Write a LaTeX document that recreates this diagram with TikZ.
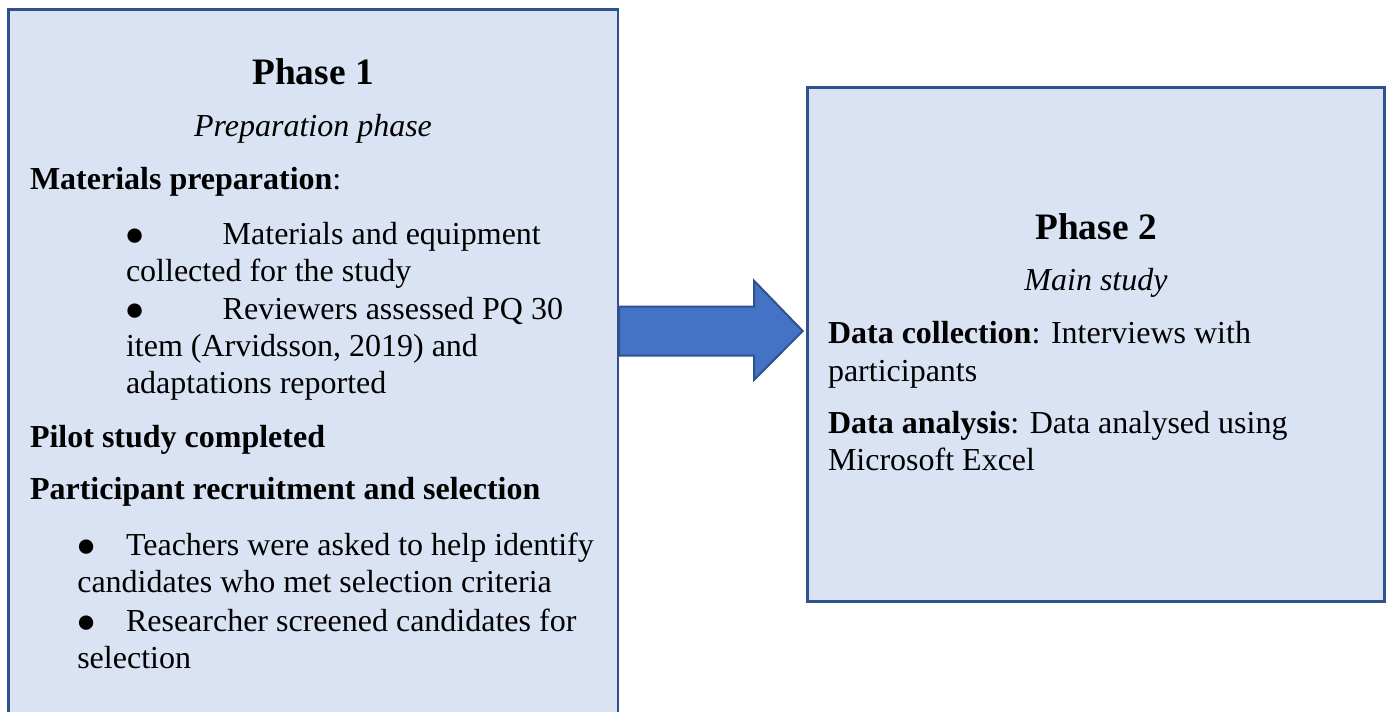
\documentclass[tikz,border=0pt]{standalone}
\usepackage{fontspec}
\setmainfont{Liberation Serif}
\definecolor{boxfill}{HTML}{DAE3F3}
\definecolor{boxline}{HTML}{2F528F}
\definecolor{arrowfill}{HTML}{4472C4}
\begin{document}
\begin{tikzpicture}[x=0.75pt,y=-0.75pt,
  phasebox/.style={draw=boxline, fill=boxfill, line width=1.9pt, inner sep=0pt, outer sep=0pt, anchor=north west},
  txt/.style={inner sep=0pt, outer sep=0pt, anchor=base west, font=\fontsize{24}{28}\selectfont},
  bul/.style={inner sep=0pt, outer sep=0pt, anchor=base west, font=\fontsize{25}{28}\selectfont},
  ttl/.style={inner sep=0pt, outer sep=0pt, anchor=base, font=\fontsize{28}{32}\selectfont\bfseries},
  sub/.style={inner sep=0pt, outer sep=0pt, anchor=base, font=\fontsize{24}{28}\selectfont\itshape},
  bigarrow/.style={draw=boxline, fill=arrowfill, line width=1.5pt, line join=miter}]
\useasboundingbox (0,0) rectangle (1387,712);
\clip (0,0) rectangle (1387,712);
% boxes
\node[phasebox, minimum width=457pt, minimum height=540pt] (p1) at (8.7,9.7) {};
\node[phasebox, line width=2.2pt, minimum width=432.75pt, minimum height=385.5pt] (p2) at (807.5,87.8) {};
% arrow
\coordinate (atail) at (619,331);
\coordinate (atip) at (802.7,331);
\draw[bigarrow] (619,306.7) -- (754,306.7) -- (754,280.7) -- (atip) -- (754,380) -- (754,355.7) -- (619,355.7) -- cycle;
% Phase 1 text
\node[ttl] (t1) at (313,85) {Phase 1};
\node[sub] (s1) at (313,136.5) {Preparation phase};
\node[txt] (m1) at (30,190) {\textbf{Materials preparation}:};
\node[bul] (b1) at (124.5,245.3) {●};
\node[txt] (l1) at (222.7,244.3) {Materials and equipment};
\node[txt] (l2) at (126,281.3) {collected for the study};
\node[bul] (b2) at (124.5,321) {●};
\node[txt] (l3) at (222.7,320) {Reviewers assessed PQ 30};
\node[txt] (l4) at (126,356.7) {item (Arvidsson, 2019) and};
\node[txt] (l5) at (126,393.5) {adaptations reported};
\node[txt] (m2) at (30,447.3) {\textbf{Pilot study completed}};
\node[txt] (m3) at (30,499.3) {\textbf{Participant recruitment and selection}};
\node[bul] (b3) at (76,556) {●};
\node[txt] (l6) at (126,555) {Teachers were asked to help identify};
\node[txt] (l7) at (77.3,592) {candidates who met selection criteria};
\node[bul] (b4) at (76,632) {●};
\node[txt] (l8) at (126,631) {Researcher screened candidates for};
\node[txt] (l9) at (77.3,668) {selection};
% Phase 2 text
\node[ttl] (t2) at (1096,240) {Phase 2};
\node[sub] (s2) at (1096,290.7) {Main study};
\node[txt] (r1) at (828,344) {\textbf{Data collection}: Interviews with};
\node[txt] (r2) at (828,381.5) {participants};
\node[txt] (r3) at (828,433.3) {\textbf{Data analysis}: Data analysed using};
\node[txt] (r4) at (828,470.7) {Microsoft Excel};
\end{tikzpicture}
\end{document}
